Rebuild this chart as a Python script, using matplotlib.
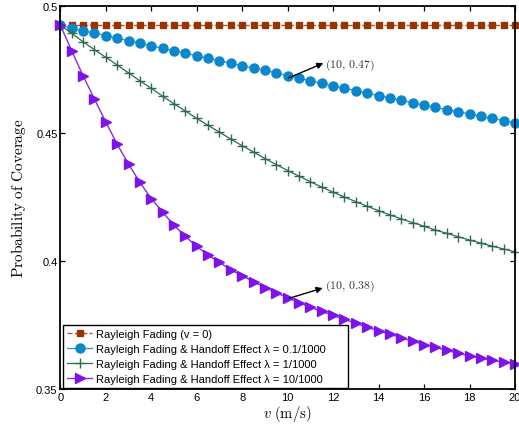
import numpy as np
import matplotlib
matplotlib.use("Agg")
import matplotlib.pyplot as plt

plt.rcParams["font.family"] = ["Liberation Sans", "DejaVu Sans"]
plt.rcParams["mathtext.fontset"] = "cm"

# speed axis (m/s), one sample every 0.5
v = np.arange(0, 20.5, 0.5)

# probability of coverage
p_static = [0.4924] * 41
p_lam01 = [0.4924, 0.4912, 0.4902, 0.4893, 0.4883, 0.4873, 0.4863, 0.4853, 0.4843, 0.4833,
           0.4824, 0.4814, 0.4804, 0.4794, 0.4785, 0.4775, 0.4765, 0.4756, 0.4747, 0.4737,
           0.4726, 0.4716, 0.4706, 0.4696, 0.4686, 0.4677, 0.4667, 0.4657, 0.4648, 0.4639,
           0.4630, 0.4620, 0.4611, 0.4602, 0.4593, 0.4585, 0.4576, 0.4567, 0.4559, 0.4550,
           0.4541]
p_lam1 = [0.4924, 0.4892, 0.4859, 0.4828, 0.4798, 0.4768, 0.4737, 0.4706, 0.4677, 0.4646,
          0.4616, 0.4588, 0.4559, 0.4532, 0.4505, 0.4478, 0.4452, 0.4427, 0.4402, 0.4378,
          0.4355, 0.4333, 0.4311, 0.4290, 0.4270, 0.4251, 0.4233, 0.4215, 0.4198, 0.4181,
          0.4166, 0.4151, 0.4137, 0.4122, 0.4109, 0.4096, 0.4083, 0.4071, 0.4059, 0.4048,
          0.4037]
p_lam10 = [0.4924, 0.4824, 0.4726, 0.4635, 0.4545, 0.4458, 0.4380, 0.4309, 0.4245, 0.4192,
           0.4141, 0.4097, 0.4058, 0.4024, 0.3995, 0.3967, 0.3943, 0.3920, 0.3897, 0.3877,
           0.3857, 0.3838, 0.3820, 0.3804, 0.3788, 0.3772, 0.3757, 0.3742, 0.3728, 0.3715,
           0.3700, 0.3687, 0.3674, 0.3663, 0.3651, 0.3640, 0.3630, 0.3621, 0.3613, 0.3605,
           0.3598]

labels = ["Rayleigh Fading (v = 0)",
          "Rayleigh Fading & Handoff Effect λ = 0.1/1000",
          "Rayleigh Fading & Handoff Effect λ = 1/1000",
          "Rayleigh Fading & Handoff Effect λ = 10/1000"]

fig = plt.figure(figsize=(5.19, 4.27), dpi=100)
ax = fig.add_axes([0.1162, 0.0867, 0.8761, 0.8976])

ax.plot(v, p_static, linestyle="--", color="#b0552a", lw=1.0, marker="s", ms=5,
        mfc="#993300", mec="#993300", label=labels[0], clip_on=False)
ax.plot(v, p_lam01, "-", color="#3a9ad6", lw=1.0, marker="o", ms=6.5,
        mfc="#0a87cc", mec="#0a87cc", label=labels[1], clip_on=False)
ax.plot(v, p_lam1, "-", color="#2e6b4f", lw=0.9, marker="+", ms=7, mew=1.0,
        mec="#2e6b4f", label=labels[2], clip_on=False)
ax.plot(v, p_lam10, "-", color="#8a2be2", lw=1.0, marker=">", ms=7.5,
        mfc="#7d12ea", mec="#7d12ea", label=labels[3], clip_on=False)

ax.set_xlim(0, 20)
ax.set_ylim(0.35, 0.5)
ax.set_xticks(np.arange(0, 21, 2))
ax.set_yticks([0.35, 0.4, 0.45, 0.5])
ax.set_yticklabels(["0.35", "0.4", "0.45", "0.5"])
ax.tick_params(direction="in", top=True, right=True, length=3.5, width=0.9,
               labelsize=8, pad=2)
for s in ax.spines.values():
    s.set_linewidth(1.3)

ax.set_xlabel(r"$v\ (\mathrm{m/s})$", fontsize=10.5, labelpad=1)
ax.set_ylabel(r"$\mathrm{Probability\ of\ Coverage}$", fontsize=11, labelpad=6)

# annotations
arrow = dict(arrowstyle="-|>", color="black", lw=1.0, mutation_scale=9,
             shrinkA=0, shrinkB=0)
ax.annotate("", xy=(11.57, 0.4775), xytext=(10.03, 0.4717), arrowprops=arrow)
ax.text(11.65, 0.4772, r"$(10,\,0.47)$", fontsize=8.5, color="#333333",
        va="center", ha="left")
ax.annotate("", xy=(11.54, 0.3895), xytext=(10.07, 0.3855), arrowprops=arrow)
ax.text(11.65, 0.3904, r"$(10,\,0.38)$", fontsize=8.5, color="#333333",
        va="center", ha="left")

leg = ax.legend(loc="lower left", bbox_to_anchor=(0.006, 0.002, 0.627, 0.17),
                mode="expand", borderaxespad=0,
                fontsize=8, handlelength=2.3, handletextpad=0.3, labelspacing=0.45,
                borderpad=0.35, fancybox=False, framealpha=1, edgecolor="black")
leg.get_frame().set_linewidth(1.0)

fig.savefig("out.png", dpi=100)
